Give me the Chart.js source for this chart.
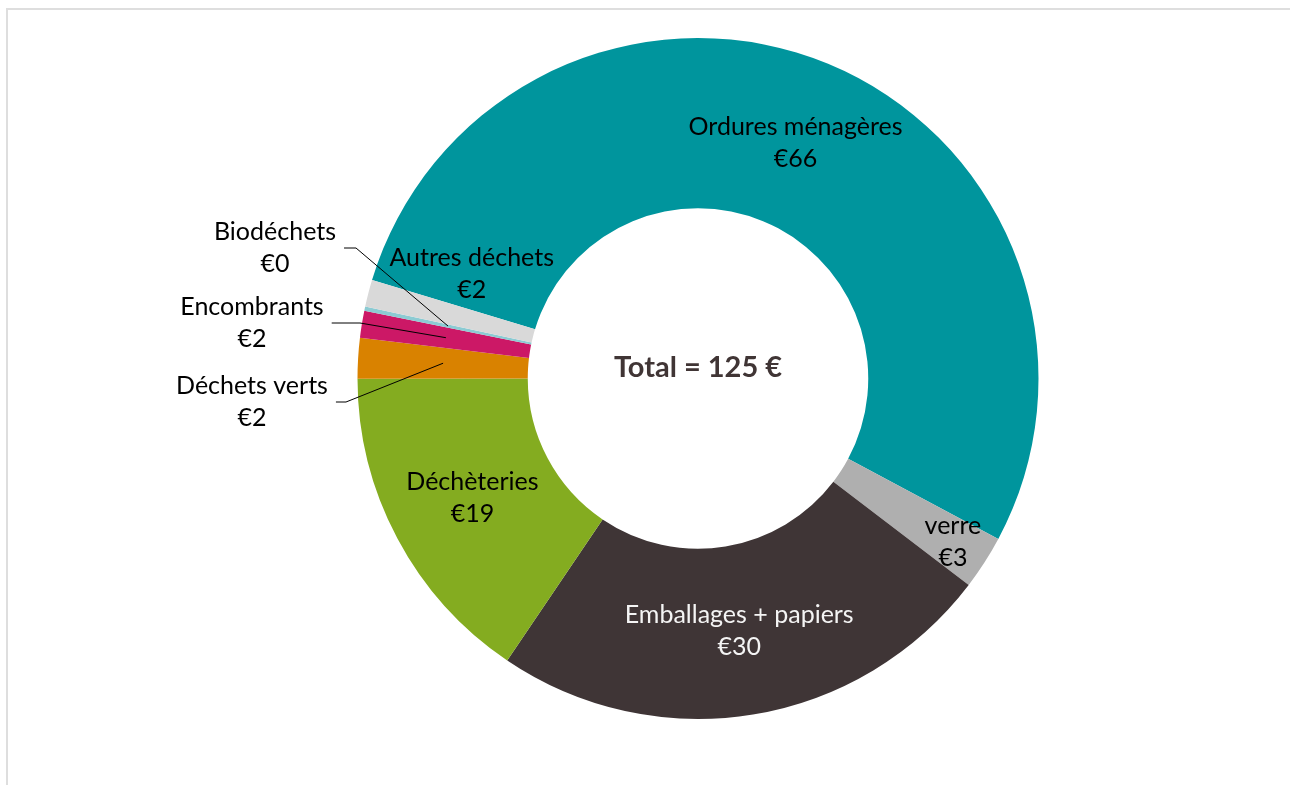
<!DOCTYPE html>
<html lang="fr">
<head>
<meta charset="utf-8">
<title>Coût par flux de déchets</title>
<script src="https://cdn.jsdelivr.net/npm/chart.js@4.4.1/dist/chart.umd.min.js"></script>
<style>
  html, body { margin: 0; padding: 0; background: #fff; overflow: hidden; }
  #wrap { position: relative; width: 1290px; height: 785px; }
  #frame {
    position: absolute; left: 6px; top: 8px; width: 1400px; height: 900px;
    border-top: 2px solid #dedede; border-left: 2px solid #dedede;
  }
  #myChart { position: absolute; left: 0; top: 0; }
</style>
</head>
<body>
<div id="wrap">
  <div id="frame"></div>
  <canvas id="myChart" width="1290" height="785"></canvas>
</div>
<script>
// data (€ per inhabitant)
const categories = [
  "Ordures ménagères",
  "verre",
  "Emballages + papiers",
  "Déchèteries",
  "Déchets verts",
  "Encombrants",
  "Biodéchets",
  "Autres déchets",
];
const costs = [66.4, 3.2, 30.1, 19.4, 2.4, 1.6, 0.24, 1.6];
const sliceColors = [
  "#00959d", // teal
  "#afafaf", // grey
  "#3f3536", // dark brown
  "#84ac20", // green
  "#d98200", // orange
  "#cc1866", // magenta
  "#8ccbd3", // light blue
  "#d9d9d9", // light grey
];
const totalLabel = "Total = 125 €";

// where each label goes: inside the ring or outside with a leader line
const labelLayout = [
  { mode: "inside" },
  { mode: "inside", radius: 0.89 },
  { mode: "inside", color: "#f4f4f4" },
  { mode: "inside" },
  { mode: "outside", dx: -446, dy: 23.5, elbow: -352 },
  { mode: "outside", dx: -446, dy: -55.5, elbow: -338 },
  { mode: "outside", dx: -423, dy: -130.5, elbow: -342 },
  { mode: "inside", dx: 21, dy: -41 },
];

const labelFont = "25px Lato";
const lineGap = 16;

const sliceLabels = {
  id: "sliceLabels",
  afterDatasetsDraw(chart) {
    const ctx = chart.ctx;
    const meta = chart.getDatasetMeta(0);
    ctx.save();
    ctx.font = labelFont;
    ctx.textAlign = "center";
    ctx.textBaseline = "middle";
    meta.data.forEach((arc, i) => {
      const p = arc.getProps(["x", "y", "startAngle", "endAngle", "innerRadius", "outerRadius"]);
      const mid = (p.startAngle + p.endAngle) / 2;
      const rMid = (p.innerRadius + p.outerRadius) / 2;
      const lay = labelLayout[i];
      const ax = p.x + rMid * Math.cos(mid);
      const ay = p.y + rMid * Math.sin(mid);
      let lx, ly;
      if (lay.mode === "inside") {
        const r = lay.radius ? lay.radius * p.outerRadius : rMid;
        lx = p.x + r * Math.cos(mid) + (lay.dx || 0);
        ly = p.y + r * Math.sin(mid) + (lay.dy || 0);
      } else {
        lx = p.x + lay.dx;
        ly = p.y + lay.dy;
        const w = ctx.measureText(categories[i]).width;
        ctx.beginPath();
        ctx.strokeStyle = "#000";
        ctx.lineWidth = 1;
        ctx.moveTo(lx + w / 2 + 8, ly);
        ctx.lineTo(p.x + lay.elbow, ly);
        ctx.lineTo(ax, ay);
        ctx.stroke();
      }
      ctx.fillStyle = lay.color || "#000";
      ctx.fillText(categories[i], lx, ly - lineGap);
      ctx.fillText("€" + Math.round(costs[i]), lx, ly + lineGap);
    });

    // total in the hole
    const c = meta.data[0];
    ctx.font = "bold 29px Lato";
    ctx.fillStyle = "#403535";
    ctx.fillText(totalLabel, c.x, c.y - 11);
    ctx.restore();
  },
};

const ctx = document.getElementById("myChart");
new Chart(ctx, {
  type: "doughnut",
  data: {
    labels: categories,
    datasets: [
      {
        data: costs,
        backgroundColor: sliceColors,
        borderWidth: 0,
        hoverOffset: 0,
      },
    ],
  },
  options: {
    responsive: false,
    animation: false,
    rotation: 286.8,
    cutout: "50%",
    layout: {
      padding: { left: 357.5, right: 251.5, top: 38, bottom: 66 },
    },
    plugins: {
      legend: { display: false },
      tooltip: { enabled: false },
    },
  },
  plugins: [sliceLabels],
});
</script>
</body>
</html>
